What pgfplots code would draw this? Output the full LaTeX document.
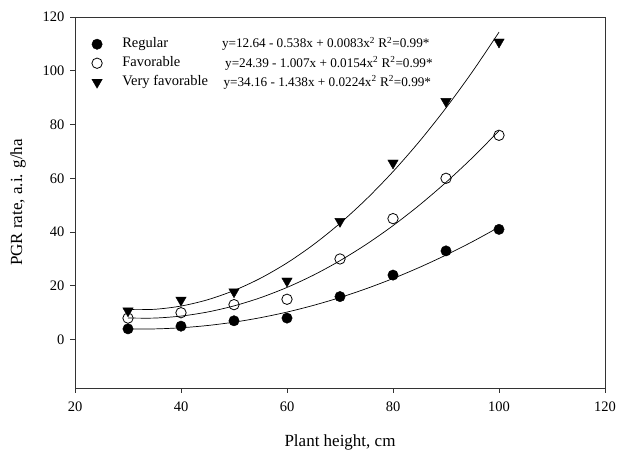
\documentclass[border=0pt]{standalone}
\usepackage{pgfplots}
\pgfplotsset{compat=1.18}
\usepackage{fontspec}
\setmainfont{Liberation Serif}
\begin{document}
\begin{tikzpicture}
\path[use as bounding box] (0,0) rectangle (617pt,449pt);
\begin{axis}[
  at={(75pt,61pt)}, anchor=south west,
  scale only axis, width=530pt, height=371pt,
  xmin=20, xmax=120, ymin=-18, ymax=120,
  xtick={20,40,...,120}, ytick={0,20,...,120},
  xtick pos=bottom, ytick pos=left,
  tick align=outside, major tick length=5pt,
  tick style={black!80, line width=0.7pt},
  axis line style={black!80, line width=0.7pt},
  /pgf/number format/assume math mode=true,
  tick label style={font=\fontsize{14.5}{16}\selectfont},
  xticklabel style={yshift=-5.5pt},
  yticklabel style={xshift=-2pt},
  xlabel={Plant height, cm}, ylabel={PGR rate, a.i. g/ha},
  label style={font=\fontsize{17}{19}\selectfont},
  xlabel style={at={(axis description cs:0.5,0)}, anchor=center, yshift=-54pt},
  ylabel style={at={(axis description cs:0,0.5)}, anchor=center, yshift=57pt},
  legend style={at={(axis cs:22.58,102.8)}, anchor=west, draw=none, fill=none,
    font=\fontsize{14.5}{16}\selectfont, row sep=6pt, inner sep=0pt,
    nodes={inner sep=0pt, text height=10pt, text depth=3pt}},
  legend cell align=left,
  legend image code/.code={\path (-8pt,0pt) (25pt,0pt); \draw[#1] plot coordinates {(0pt,0pt)};},
]
% fitted curves
\addplot[black, line width=0.7pt, smooth, forget plot] coordinates {
(30,3.97)(35,3.98)(40,4.40)(45,5.24)(50,6.49)(55,8.16)(60,10.24)(65,12.74)(70,15.65)(75,18.98)(80,22.72)(85,26.88)(90,31.45)(95,36.44)(100,41.84)};
\addplot[black, line width=0.7pt, smooth, forget plot] coordinates {
(30,8.04)(35,8.01)(40,8.75)(45,10.26)(50,12.54)(55,15.59)(60,19.41)(65,23.99)(70,29.36)(75,35.49)(80,42.39)(85,50.06)(90,58.50)(95,67.71)(100,77.69)};
\addplot[black, line width=0.7pt, smooth, forget plot] coordinates {
(30,11.18)(35,11.27)(40,12.48)(45,14.81)(50,18.26)(55,22.83)(60,28.52)(65,35.33)(70,43.26)(75,52.31)(80,62.48)(85,73.77)(90,86.18)(95,99.71)(100,114.36)};
% data
\addplot[only marks, mark=*, mark size=5.2pt, mark options={fill=black, draw=black}] coordinates {
(30,4)(40,5)(50,7)(60,8)(70,16)(80,24)(90,33)(100,41)};
\addlegendentry{Regular}
\addplot[only marks, mark=o, mark size=5.2pt, mark options={fill=white, draw=black, line width=0.8pt}] coordinates {
(30,8)(40,10)(50,13)(60,15)(70,30)(80,45)(90,60)(100,76)};
\addlegendentry{Favorable}
\addplot[only marks, mark=triangle*, mark size=6pt, mark options={fill=black, draw=black, rotate=180}] coordinates {
(30,10.7)(40,14.7)(50,17.8)(60,21.8)(70,44)(80,65.7)(90,88.6)(100,110.7)};
\addlegendentry{Very favorable}
\node[anchor=west, font=\fontsize{13.2}{15}\selectfont, inner sep=0pt] at (axis cs:47.7,110.0) {y=12.64 - 0.538x + 0.0083x\textsuperscript{2} R\textsuperscript{2}=0.99*};
\node[anchor=west, font=\fontsize{13.2}{15}\selectfont, inner sep=0pt] at (axis cs:48.3,102.8) {y=24.39 - 1.007x + 0.0154x\textsuperscript{2} R\textsuperscript{2}=0.99*};
\node[anchor=west, font=\fontsize{13.2}{15}\selectfont, inner sep=0pt] at (axis cs:48.0,95.7) {y=34.16 - 1.438x + 0.0224x\textsuperscript{2} R\textsuperscript{2}=0.99*};
\end{axis}
\end{tikzpicture}
\end{document}
